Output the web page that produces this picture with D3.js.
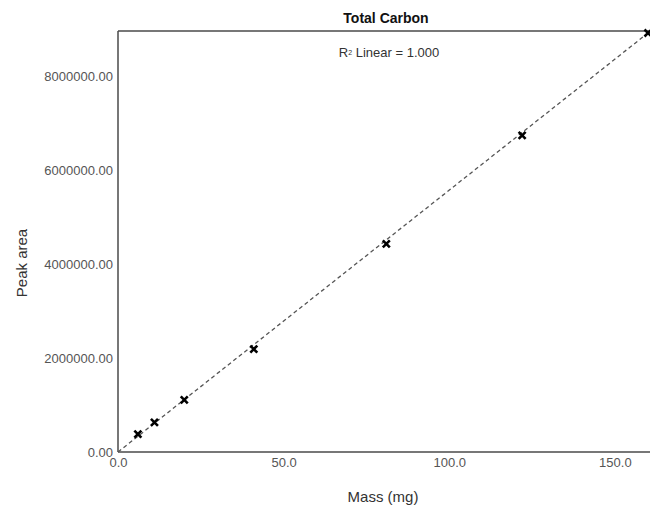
<!DOCTYPE html>
<html>
<head>
<meta charset="utf-8">
<script src="https://cdn.jsdelivr.net/npm/d3@7"></script>
<style>
  html, body { margin: 0; padding: 0; background: #fff; }
  svg { display: block; font-family: "Liberation Sans", Arial, sans-serif; }
</style>
</head>
<body>
<svg id="chart" width="650" height="512"></svg>
<script>
// Calibration data: sample mass (mg) vs. detector peak area
const massMg = [6, 11, 20, 41, 81, 122, 160];
const peakArea = [380000, 630000, 1110000, 2190000, 4430000, 6740000, 8920000];
const xTicks = [0, 50, 100, 150];
const yTicks = [0, 2000000, 4000000, 6000000, 8000000];
const fitLine = { slope: 55750, intercept: 0 }; // linear fit, R² = 1.000

const svg = d3.select("#chart");
const margin = { left: 118, right: 2, top: 31, bottom: 60 };
const W = 650, H = 512;

const x = d3.scaleLinear().domain([0, 160]).range([margin.left, W - margin.right]);
const y = d3.scaleLinear().domain([0, 8920000]).range([H - margin.bottom, margin.top + 2]);
const frameTop = margin.top;

// Frame: left, top and bottom edges
const frame = svg.append("g").attr("stroke", "#4a4a4a").attr("stroke-width", 1.5).attr("fill", "none");
frame.append("line").attr("x1", x(0)).attr("x2", x(0)).attr("y1", frameTop).attr("y2", y(0));
frame.append("line").attr("x1", x(0)).attr("x2", W).attr("y1", frameTop).attr("y2", frameTop);
frame.append("line").attr("x1", x(0)).attr("x2", W).attr("y1", y(0)).attr("y2", y(0));

// Axes (labels only, no tick marks)
const xAxis = d3.axisBottom(x).tickValues(xTicks).tickSize(0).tickPadding(6)
  .tickFormat(d3.format(".1f"));
const gx = svg.append("g").attr("transform", `translate(0,${y(0)})`).call(xAxis);
gx.select(".domain").remove();
gx.selectAll("text").attr("font-size", 13).attr("fill", "#555")
  .attr("font-family", "Liberation Sans, Arial, sans-serif");

const yAxis = d3.axisLeft(y).tickValues(yTicks).tickSize(0).tickPadding(5)
  .tickFormat(d3.format(".2f"));
const gy = svg.append("g").attr("transform", `translate(${x(0)},0)`).call(yAxis);
gy.select(".domain").remove();
gy.selectAll("text").attr("font-size", 13).attr("fill", "#555")
  .attr("font-family", "Liberation Sans, Arial, sans-serif");

// Fit line (dashed)
const xs = x.domain();
svg.append("line")
  .attr("x1", x(xs[0])).attr("y1", y(fitLine.intercept + fitLine.slope * xs[0]))
  .attr("x2", x(xs[1])).attr("y2", y(fitLine.intercept + fitLine.slope * xs[1]))
  .attr("stroke", "#555").attr("stroke-width", 1.3).attr("stroke-dasharray", "4,3");

// Point markers (×)
const pts = massMg.map((m, i) => ({ m, a: peakArea[i] }));
const s = 3.5;
svg.append("g").selectAll("path").data(pts).join("path")
  .attr("d", d => {
    const cx = x(d.m), cy = y(d.a);
    return `M${cx - s},${cy - s}L${cx + s},${cy + s}M${cx - s},${cy + s}L${cx + s},${cy - s}`;
  })
  .attr("stroke", "#000").attr("stroke-width", 2.6).attr("fill", "none");

// Title
svg.append("text").attr("x", 386).attr("y", 23).attr("text-anchor", "middle")
  .attr("font-size", 14).attr("font-weight", "bold").attr("fill", "#111")
  .text("Total Carbon");

// R² annotation
const r2 = svg.append("text").attr("x", 389).attr("y", 57).attr("text-anchor", "middle")
  .attr("font-size", 13).attr("fill", "#333");
r2.append("tspan").text("R");
r2.append("tspan").attr("font-size", 7).attr("dy", -2).text("2");
r2.append("tspan").attr("dy", 2).text(" Linear = 1.000");

// Axis titles
svg.append("text").attr("x", 383).attr("y", 502).attr("text-anchor", "middle")
  .attr("font-size", 15).attr("fill", "#333").text("Mass (mg)");
svg.append("text").attr("transform", "translate(27,263) rotate(-90)")
  .attr("text-anchor", "middle").attr("font-size", 15).attr("fill", "#333")
  .text("Peak area");
</script>
</body>
</html>
